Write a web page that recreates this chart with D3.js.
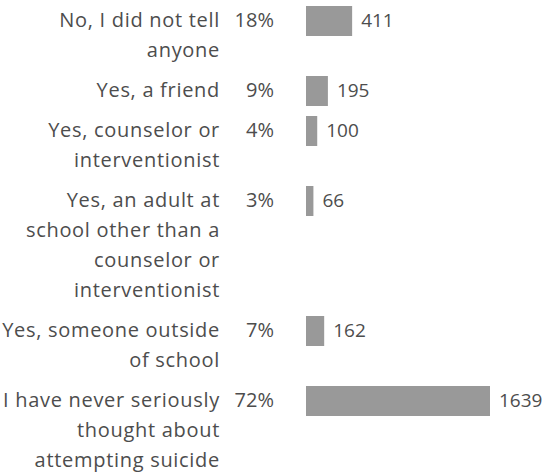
<!DOCTYPE html>
<html>
<head>
<meta charset="utf-8">
<script src="https://cdn.jsdelivr.net/npm/d3@7"></script>
<style>
  html, body { margin: 0; padding: 0; background: #ffffff; }
  svg { display: block; }
  text { font-family: "Open Sans", "Noto Sans", sans-serif; }
</style>
</head>
<body>
<svg id="chart" width="544" height="472"></svg>
<script>
const categories = [
  ["No, I did not tell", "anyone"],
  ["Yes, a friend"],
  ["Yes, counselor or", "interventionist"],
  ["Yes, an adult at", "school other than a", "counselor or", "interventionist"],
  ["Yes, someone outside", "of school"],
  ["I have never seriously", "thought about", "attempting suicide"]
];
const percents = ["18%", "9%", "4%", "3%", "7%", "72%"];
const counts = [411, 195, 100, 66, 162, 1639];

const lineH = 30, rowGap = 10, topPad = 6, baseOff = 21;
const barX = 306, barMaxW = 184;
const labelRight = 220, pctRight = 274;
const fontSize = 20, valueFontSize = 19, letterSp = 0.7;
const textColor = "#4d4d4d", barColor = "#999999";

const svg = d3.select("#chart");

const keys = categories.map((c, i) => i);
const offsets = [];
let acc = topPad;
categories.forEach(c => { offsets.push(acc); acc += c.length * lineH + rowGap; });
const y = d3.scaleOrdinal().domain(keys).range(offsets);
const x = d3.scaleLinear().domain([0, d3.max(counts)]).range([0, barMaxW]);

const rows = svg.selectAll("g.row").data(keys).join("g")
  .attr("class", "row")
  .attr("transform", d => `translate(0,${y(d)})`);

rows.append("rect")
  .attr("x", barX)
  .attr("y", 0)
  .attr("width", d => x(counts[d]))
  .attr("height", lineH)
  .attr("fill", barColor);

rows.append("text")
  .attr("x", d => barX + x(counts[d]) + 9)
  .attr("y", baseOff)
  .attr("font-size", valueFontSize)
  .attr("fill", textColor)
  .text(d => counts[d]);

rows.append("text")
  .attr("x", pctRight)
  .attr("y", baseOff)
  .attr("text-anchor", "end")
  .attr("font-size", fontSize)
  .attr("fill", textColor)
  .text(d => percents[d]);

rows.append("text")
  .attr("text-anchor", "end")
  .attr("font-size", fontSize)
  .attr("letter-spacing", letterSp)
  .attr("fill", textColor)
  .selectAll("tspan")
  .data(d => categories[d])
  .join("tspan")
  .attr("x", labelRight)
  .attr("y", (l, j) => baseOff + j * lineH)
  .text(l => l);
</script>
</body>
</html>
